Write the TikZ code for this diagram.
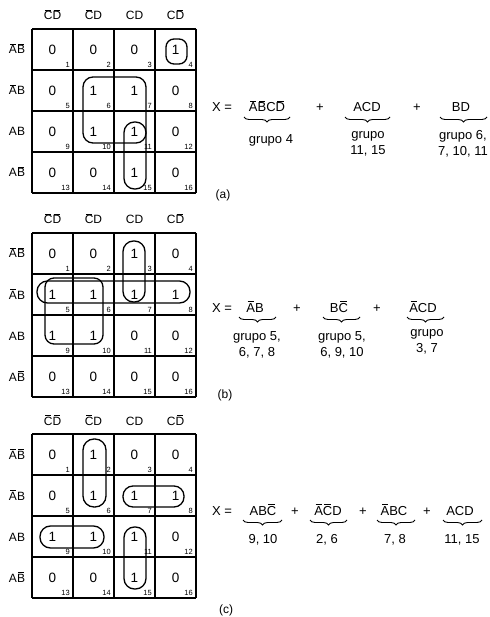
\documentclass[tikz,border=0pt]{standalone}
\usepackage{fontspec}
\setmainfont{Liberation Sans}
\usetikzlibrary{decorations.pathreplacing}
\newcommand\nb[1]{\setbox0=\hbox{#1}\vbox{\offinterlineskip\hbox to\wd0{\hss\vrule width .68\wd0 height .7pt depth 0pt\hss}\kern1.2pt\box0}}
\tikzset{
  val/.style={font=\fontsize{13.5}{16}\selectfont, inner sep=0pt},
  idx/.style={font=\fontsize{7.5}{9}\selectfont, inner sep=0pt, anchor=south east},
  hdr/.style={font=\fontsize{12}{14}\selectfont, inner sep=0pt},
  eq/.style={font=\fontsize{13}{16}\selectfont, inner sep=0pt, anchor=base},
  grp/.style={font=\fontsize{13}{16}\selectfont, inner sep=0pt, align=center},
  kline/.style={line width=1.6pt},
  kloop/.style={line width=1.3pt},
  ubrace/.style={decorate, decoration={brace, mirror, amplitude=5pt}, line width=0.9pt},
}
\newcommand\kmap[3]{%
  \foreach \v [count=\k from 0] in {#3} {
    \pgfmathtruncatemacro\rr{div(\k,4)}
    \pgfmathtruncatemacro\cc{mod(\k,4)}
    \pgfmathtruncatemacro\nn{\k+1}
    \node[val] (#1v\nn) at ({52.5+41*\cc},{#2+20.5+41*\rr}) {\v};
    \node[idx] (#1i\nn) at ({70+41*\cc},{#2+39+41*\rr}) {\nn};
  }
  \foreach \t in {0,...,4} {
    \draw[kline] ({32+41*\t},#2) -- ++(0,164);
    \draw[kline] (32,{#2+41*\t}) -- ++(164,0);
  }
  \node[hdr, anchor=base] (#1h1) at (52.5,{#2-9}) {\nb{C}\nb{D}};
  \node[hdr, anchor=base] (#1h2) at (93.5,{#2-9}) {\nb{C}D};
  \node[hdr, anchor=base] (#1h3) at (134.5,{#2-9}) {CD};
  \node[hdr, anchor=base] (#1h4) at (175.5,{#2-9}) {C\nb{D}};
  \node[hdr, anchor=base] (#1r1) at (17,{#2+25}) {\nb{A}\nb{B}};
  \node[hdr, anchor=base] (#1r2) at (17,{#2+66}) {\nb{A}B};
  \node[hdr, anchor=base] (#1r3) at (17,{#2+107}) {AB};
  \node[hdr, anchor=base] (#1r4) at (17,{#2+148}) {A\nb{B}};
}
\begin{document}
\begin{tikzpicture}[x=1pt,y=-1pt]
\useasboundingbox[fill=white] (0,0) rectangle (489,617);

% ---------- (a)
\kmap{a}{29}{0,0,0,1, 0,1,1,0, 0,1,1,0, 0,0,1,0}
\draw[kloop, rounded corners=8pt] (166,39) rectangle (187,64);
\draw[kloop, rounded corners=10pt] (83,77) rectangle (146,143);
\draw[kloop, rounded corners=10.5pt] (124,122) rectangle (146,189);

\node[eq] (aX) at (222,112) {X =};
\node[eq] (at1) at (267,112) {\nb{A}\nb{B}C\nb{D}};
\node[eq] (ap1) at (320,112) {+};
\node[eq] (at2) at (367,112) {ACD};
\node[eq] (ap2) at (417,112) {+};
\node[eq] (at3) at (461,112) {BD};
\draw[ubrace] (244,117) -- (290,117);
\draw[ubrace] (345,117) -- (390,117);
\draw[ubrace] (440,117) -- (487,117);
\node[grp] (ag1) at (271,140) {grupo 4};
\node[grp] (ag2) at (368,144) {grupo\\11, 15};
\node[grp] (ag3) at (463,144) {grupo 6,\\7, 10, 11};
\node[hdr] (alab) at (223,195) {(a)};

% ---------- (b)
\kmap{b}{233}{0,0,1,0, 1,1,1,1, 1,1,0,0, 0,0,0,0}
\draw[kloop, rounded corners=10.5pt] (123,241) rectangle (145,302);
\draw[kloop, rounded corners=10.5pt] (37,281) rectangle (190,303);
\draw[kloop, rounded corners=9pt] (45,278) rectangle (103,344);

\node[eq] (bX) at (222,312) {X =};
\node[eq] (bt1) at (255,312) {\nb{A}B};
\node[eq] (bp1) at (297,312) {+};
\node[eq] (bt2) at (339,312) {B\nb{C}};
\node[eq] (bp2) at (377,312) {+};
\node[eq] (bt3) at (423,312) {\nb{A}CD};
\draw[ubrace] (239,317) -- (276,317);
\draw[ubrace] (323,317) -- (360,317);
\draw[ubrace] (407,317) -- (444,317);
\node[grp] (bg1) at (257,345) {grupo 5,\\6, 7, 8};
\node[grp] (bg2) at (342,345) {grupo 5,\\6, 9, 10};
\node[grp] (bg3) at (427,342) {grupo\\3, 7};
\node[hdr] (blab) at (225,395) {(b)};

% ---------- (c)
\kmap{c}{434}{0,1,0,0, 0,1,1,1, 1,1,1,0, 0,0,1,0}
\draw[kloop, rounded corners=11pt] (83,439) rectangle (106,507);
\draw[kloop, rounded corners=10pt] (123,486) rectangle (184,507);
\draw[kloop, rounded corners=10.5pt] (40,526) rectangle (104,548);
\draw[kloop, rounded corners=10.5pt] (124,527) rectangle (146,589);

\node[eq] (cX) at (222,515) {X =};
\node[eq] (ct1) at (263,515) {AB\nb{C}};
\node[eq] (cp1) at (295,515) {+};
\node[eq] (ct2) at (328,515) {\nb{A}\nb{C}D};
\node[eq] (cp2) at (363,515) {+};
\node[eq] (ct3) at (394,515) {\nb{A}BC};
\node[eq] (cp3) at (427,515) {+};
\node[eq] (ct4) at (460,515) {ACD};
\draw[ubrace] (243,520) -- (282,520);
\draw[ubrace] (310,520) -- (347,520);
\draw[ubrace] (377,520) -- (415,520);
\draw[ubrace] (443,520) -- (482,520);
\node[grp] (cg1) at (263,540) {9, 10};
\node[grp] (cg2) at (327,540) {2, 6};
\node[grp] (cg3) at (395,540) {7, 8};
\node[grp] (cg4) at (462,540) {11, 15};
\node[hdr] (clab) at (226,610) {(c)};
\end{tikzpicture}
\end{document}
